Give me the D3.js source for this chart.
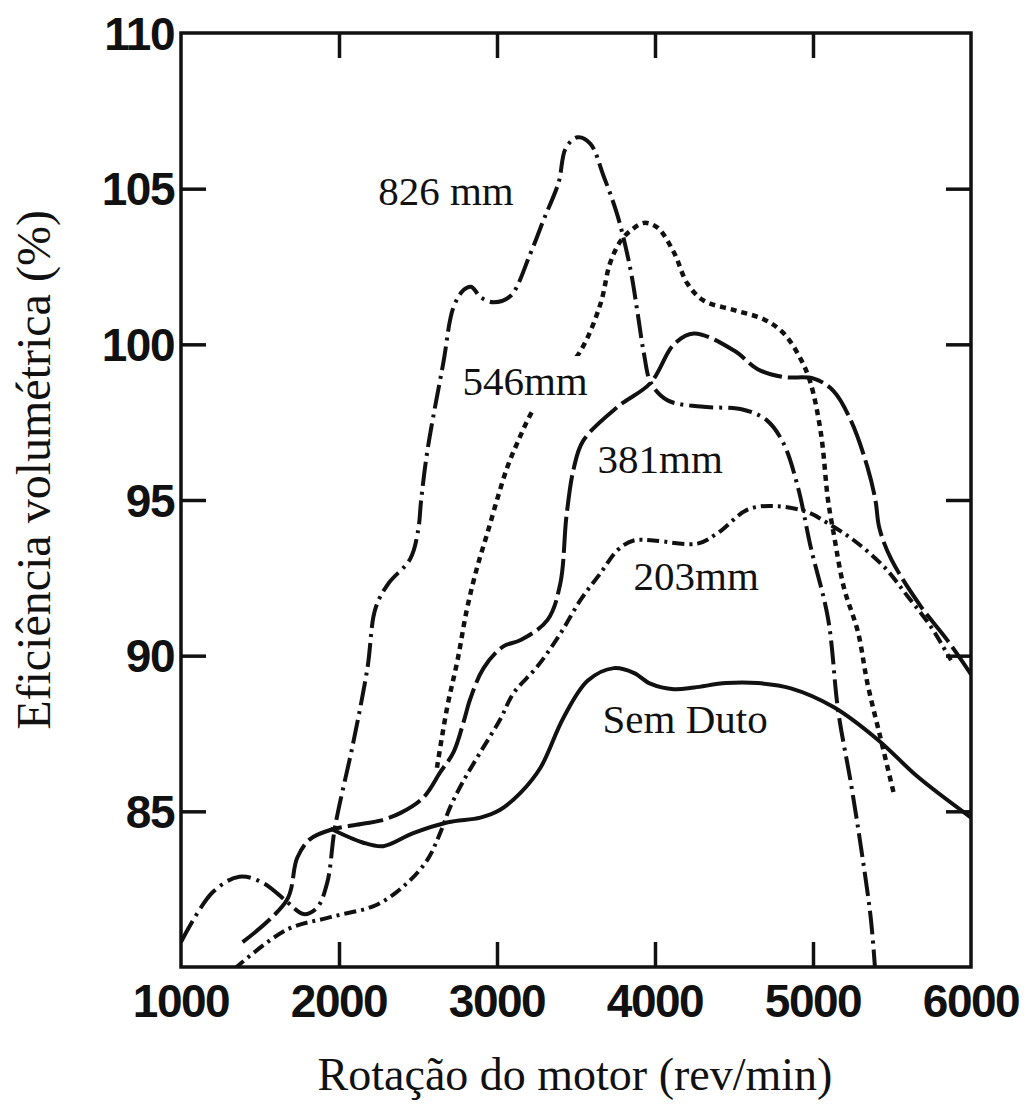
<!DOCTYPE html>
<html>
<head>
<meta charset="utf-8">
<script src="https://cdn.jsdelivr.net/npm/d3@7"></script>
<style>
  html, body { margin: 0; padding: 0; background: #fff; }
  svg { display: block; }
</style>
</head>
<body>
<svg id="chart" width="1027" height="1106"></svg>
<script>
// ---------------- DATA ----------------
const xTicks = [1000, 2000, 3000, 4000, 5000, 6000];
const yTicks = [85, 90, 95, 100, 105, 110];

const rpm826 = [1000,1200,1370,1520,1670,1775,1860,1925,1975,2090,2180,2230,2310,2450,2500,2520,2560,2660,2725,2790,2835,2900,2980,3085,3210,3295,3390,3435,3510,3590,3675,3765,3845,3890,3930,3975,4080,4290,4560,4710,4815,4905,4985,5095,5160,5240,5305,5365,5395];
const eff826 = [80.8,82.4,82.9,82.7,82.1,81.7,81.9,82.7,84.5,87.2,89.6,91.5,92.3,93.1,94.0,95.0,96.6,99.4,101.2,101.75,101.85,101.5,101.35,101.55,102.9,104.0,105.2,106.3,106.65,106.45,105.4,104.1,102.4,101.0,99.7,98.75,98.2,98.0,97.9,97.55,96.8,95.4,93.5,91.2,88.2,85.9,83.8,81.6,79.8];

const rpm546 = [2620,2685,2750,2810,2875,2940,3000,3065,3130,3230,3370,3530,3655,3715,3780,3845,3930,4015,4120,4205,4310,4500,4690,4815,4925,4985,5050,5095,5130,5195,5285,5345,5430,5510];
const eff546 = [86.4,88.35,89.85,91.5,92.85,93.95,95.0,96.05,96.85,97.9,98.8,99.8,101.3,102.6,103.3,103.65,103.9,103.75,102.95,101.95,101.4,101.1,100.8,100.35,99.5,98.75,97.15,95.0,93.95,92.2,90.75,89.1,87.3,85.6];

const rpm381 = [1390,1670,1735,1815,1945,2150,2260,2390,2535,2640,2725,2790,2830,2915,3040,3150,3320,3400,3440,3485,3545,3765,3970,4120,4245,4500,4650,4815,5005,5130,5240,5345,5395,5420,5495,5680,5850,6000];
const eff381 = [80.8,82.15,83.5,84.1,84.4,84.6,84.7,84.95,85.45,86.25,86.9,87.9,88.6,89.6,90.3,90.5,91.15,92.3,94.5,96.0,96.9,98.0,98.75,100.0,100.35,99.8,99.2,98.95,98.9,98.5,97.55,96.05,95.0,94.1,93.1,91.6,90.5,89.4];

const rpm203 = [1340,1670,1945,2240,2432,2560,2640,2705,2790,2895,3020,3105,3255,3400,3530,3655,3765,3865,3990,4270,4400,4590,4780,4970,5095,5260,5450,5600,5750,5873];
const eff203 = [79.95,81.2,81.6,82.0,82.7,83.45,84.3,85.15,86.0,86.9,87.95,88.8,89.65,90.7,91.8,92.65,93.4,93.7,93.7,93.6,93.95,94.7,94.8,94.6,94.25,93.7,92.85,91.9,90.9,89.85];

const rpmSem = [1945,2150,2280,2470,2690,2895,3020,3150,3275,3420,3575,3740,3865,3970,4120,4250,4450,4650,4860,5130,5410,5665,6000];
const effSem = [84.45,84.0,83.88,84.3,84.65,84.8,85.05,85.6,86.4,88.0,89.2,89.6,89.45,89.1,88.92,88.98,89.12,89.12,88.95,88.35,87.3,86.1,84.8];

const seriesNames = ["826 mm", "546mm", "381mm", "203mm", "Sem Duto"];
// label anchor (rpm, efficiency) for each series name: left edge / baseline
const labelRpm = [2248, 2781, 3636, 3864, 3668];
const labelEff = [104.48, 98.37, 95.87, 92.11, 87.52];

const xTitle = "Rotação do motor (rev/min)";
const yTitle = "Eficiência volumétrica (%)";

// ---------------- LAYOUT ----------------
const L = 181, R = 971, T = 33, B = 967;
const svg = d3.select("#chart");
const x = d3.scaleLinear().domain([1000, 6000]).range([L, R]);
const y = d3.scaleLinear().domain([80, 110]).range([B, T]);

const dashes = ["24,6,3,6", "6,5", "36,6", "12,5,3,5", null];
const widths = [4, 4.5, 4, 4, 4];
const series = [
  [rpm826, eff826], [rpm546, eff546], [rpm381, eff381], [rpm203, eff203], [rpmSem, effSem]
];

svg.append("defs").append("clipPath").attr("id", "plotclip")
  .append("rect").attr("x", L).attr("y", T).attr("width", R - L).attr("height", B - T);

const line = d3.line()
  .x(d => x(d[0])).y(d => y(d[1]))
  .curve(d3.curveCatmullRom.alpha(0.5));

const gLines = svg.append("g").attr("clip-path", "url(#plotclip)");
series.forEach((s, i) => {
  const pts = s[0].map((r, k) => [r, s[1][k]]);
  gLines.append("path")
    .datum(pts)
    .attr("d", line)
    .attr("fill", "none")
    .attr("stroke", "#111")
    .attr("stroke-width", widths[i])
    .attr("stroke-linecap", "butt")
    .attr("stroke-linejoin", "round")
    .attr("stroke-dasharray", dashes[i]);
});

// frame & axes
const axisStyle = g => {
  g.select(".domain").remove();
  g.selectAll(".tick line").attr("stroke", "#111").attr("stroke-width", 3.5);
};
const innerX = xTicks.filter(v => v > 1000 && v < 6000);
const innerY = yTicks.filter(v => v > 80 && v < 110);

svg.append("g").attr("transform", `translate(0,${B})`)
  .call(d3.axisBottom(x).tickValues(innerX).tickSize(-25).tickFormat(""))
  .call(axisStyle);
svg.append("g").attr("transform", `translate(0,${T})`)
  .call(d3.axisTop(x).tickValues(innerX).tickSize(-25).tickFormat(""))
  .call(axisStyle);
svg.append("g").attr("transform", `translate(${L},0)`)
  .call(d3.axisLeft(y).tickValues(innerY).tickSize(-25).tickFormat(""))
  .call(axisStyle);
svg.append("g").attr("transform", `translate(${R},0)`)
  .call(d3.axisRight(y).tickValues(innerY).tickSize(-25).tickFormat(""))
  .call(axisStyle);

svg.append("rect")
  .attr("x", L).attr("y", T).attr("width", R - L).attr("height", B - T)
  .attr("fill", "none").attr("stroke", "#111").attr("stroke-width", 3.5);

// tick labels
const tickFont = "'Liberation Sans', Arial, Helvetica, sans-serif";
svg.append("g").selectAll("text").data(xTicks).join("text")
  .attr("x", d => x(d)).attr("y", 1017)
  .attr("text-anchor", "middle")
  .attr("font-family", tickFont).attr("font-weight", "bold")
  .attr("font-size", 46).attr("letter-spacing", "-1.5px")
  .attr("fill", "#111")
  .text(d => d);
svg.append("g").selectAll("text").data(yTicks).join("text")
  .attr("x", 174).attr("y", d => y(d)).attr("dy", "0.36em")
  .attr("text-anchor", "end")
  .attr("font-family", tickFont).attr("font-weight", "bold")
  .attr("font-size", 46).attr("letter-spacing", "-1.5px")
  .attr("fill", "#111")
  .text(d => d);

// series labels
const serif = "'Liberation Serif', 'Times New Roman', Times, serif";
const gLab = svg.append("g");
seriesNames.forEach((name, i) => {
  const g = gLab.append("g");
  const t = g.append("text")
    .attr("x", x(labelRpm[i])).attr("y", y(labelEff[i]))
    .attr("font-family", serif).attr("font-size", 41)
    .attr("fill", "#111")
    .text(name);
  if (i === 1) {
    const bb = t.node().getBBox();
    g.insert("rect", "text")
      .attr("x", bb.x - 2).attr("y", bb.y - 2)
      .attr("width", bb.width + 4).attr("height", bb.height + 8)
      .attr("fill", "#fff");
  }
});

// axis titles
svg.append("text")
  .attr("x", (L + R) / 2 - 1).attr("y", 1090)
  .attr("text-anchor", "middle")
  .attr("font-family", serif).attr("font-size", 46)
  .attr("fill", "#111")
  .text(xTitle);
svg.append("text")
  .attr("transform", "translate(50,470) rotate(-90)")
  .attr("text-anchor", "middle")
  .attr("font-family", serif).attr("font-size", 48)
  .attr("fill", "#111")
  .text(yTitle);
</script>
</body>
</html>
